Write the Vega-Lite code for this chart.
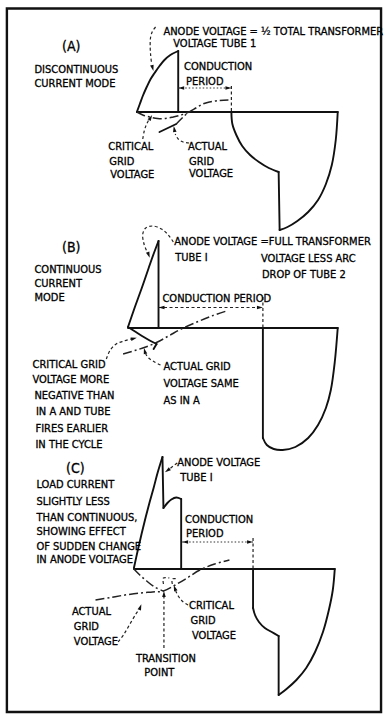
{
"$schema":"https://vega.github.io/schema/vega-lite/v6.json",
"width":390,"height":716,
"autosize":{"type":"fit","contains":"padding"},
"padding":0,
"background":"white",
"config":{"view":{"stroke":null}},
"datasets":{
"frame":[{"x":7,"y":8.5,"x2":387,"y2":712}],
"paths":[
{"id":"A_arc","s":"solid","i":0,"x":139,"y":112},{"id":"A_arc","s":"solid","i":1,"x":142,"y":104},{"id":"A_arc","s":"solid","i":2,"x":145,"y":96},{"id":"A_arc","s":"solid","i":3,"x":149,"y":87},{"id":"A_arc","s":"solid","i":4,"x":153,"y":79},{"id":"A_arc","s":"solid","i":5,"x":157,"y":73},{"id":"A_arc","s":"solid","i":6,"x":162,"y":66},{"id":"A_arc","s":"solid","i":7,"x":167,"y":60},{"id":"A_arc","s":"solid","i":8,"x":173,"y":55},{"id":"A_arc","s":"solid","i":9,"x":181,"y":51},
{"id":"A_vert","s":"solid","i":0,"x":181,"y":51},{"id":"A_vert","s":"solid","i":1,"x":181,"y":112},
{"id":"A_base","s":"solid","i":0,"x":139,"y":112},{"id":"A_base","s":"solid","i":1,"x":343,"y":112},
{"id":"A_neg1","s":"solid","i":0,"x":235,"y":112},{"id":"A_neg1","s":"solid","i":1,"x":236,"y":124},{"id":"A_neg1","s":"solid","i":2,"x":240,"y":135},{"id":"A_neg1","s":"solid","i":3,"x":246,"y":146},{"id":"A_neg1","s":"solid","i":4,"x":254,"y":155},{"id":"A_neg1","s":"solid","i":5,"x":263,"y":162},{"id":"A_neg1","s":"solid","i":6,"x":273,"y":168},{"id":"A_neg1","s":"solid","i":7,"x":283,"y":172},
{"id":"A_neg2","s":"solid","i":0,"x":283,"y":172},{"id":"A_neg2","s":"solid","i":1,"x":284,"y":230},
{"id":"A_neg3","s":"solid","i":0,"x":284,"y":230},{"id":"A_neg3","s":"solid","i":1,"x":292,"y":227},{"id":"A_neg3","s":"solid","i":2,"x":302,"y":221},{"id":"A_neg3","s":"solid","i":3,"x":313,"y":212},{"id":"A_neg3","s":"solid","i":4,"x":323,"y":200},{"id":"A_neg3","s":"solid","i":5,"x":331,"y":184},{"id":"A_neg3","s":"solid","i":6,"x":337,"y":165},{"id":"A_neg3","s":"solid","i":7,"x":341,"y":140},{"id":"A_neg3","s":"solid","i":8,"x":343,"y":112},
{"id":"A_gs","s":"solid","i":0,"x":162,"y":132},{"id":"A_gs","s":"solid","i":1,"x":179,"y":124},
{"id":"A_act","s":"dashdot","i":0,"x":179,"y":124},{"id":"A_act","s":"dashdot","i":1,"x":186,"y":117},{"id":"A_act","s":"dashdot","i":2,"x":192,"y":112},{"id":"A_act","s":"dashdot","i":3,"x":199,"y":108},{"id":"A_act","s":"dashdot","i":4,"x":206,"y":104},{"id":"A_act","s":"dashdot","i":5,"x":213,"y":102},{"id":"A_act","s":"dashdot","i":6,"x":222,"y":100.5},{"id":"A_act","s":"dashdot","i":7,"x":232,"y":100},
{"id":"A_crit","s":"dashdot","i":0,"x":139,"y":112},{"id":"A_crit","s":"dashdot","i":1,"x":145,"y":115},{"id":"A_crit","s":"dashdot","i":2,"x":152,"y":117},{"id":"A_crit","s":"dashdot","i":3,"x":160,"y":118.5},{"id":"A_crit","s":"dashdot","i":4,"x":168,"y":118.5},{"id":"A_crit","s":"dashdot","i":5,"x":176,"y":117},{"id":"A_crit","s":"dashdot","i":6,"x":184,"y":115},{"id":"A_crit","s":"dashdot","i":7,"x":192,"y":112},
{"id":"A_la","s":"dash","i":0,"x":158,"y":27},{"id":"A_la","s":"dash","i":1,"x":155,"y":31},{"id":"A_la","s":"dash","i":2,"x":153,"y":37},{"id":"A_la","s":"dash","i":3,"x":152.5,"y":45},{"id":"A_la","s":"dash","i":4,"x":153,"y":55},{"id":"A_la","s":"dash","i":5,"x":154,"y":64},
{"id":"A_lc","s":"dash","i":0,"x":145,"y":139},{"id":"A_lc","s":"dash","i":1,"x":146.5,"y":131},{"id":"A_lc","s":"dash","i":2,"x":148.5,"y":125},{"id":"A_lc","s":"dash","i":3,"x":151,"y":120},
{"id":"A_lg","s":"dash","i":0,"x":192,"y":143},{"id":"A_lg","s":"dash","i":1,"x":186,"y":142},{"id":"A_lg","s":"dash","i":2,"x":181,"y":139},{"id":"A_lg","s":"dash","i":3,"x":178,"y":134},
{"id":"A_cond","s":"dot","i":0,"x":181,"y":88},{"id":"A_cond","s":"dot","i":1,"x":235,"y":88},
{"id":"A_condv","s":"dash","i":0,"x":235,"y":86},{"id":"A_condv","s":"dash","i":1,"x":235,"y":112},

{"id":"B_rise","s":"solid","i":0,"x":130,"y":327},{"id":"B_rise","s":"solid","i":1,"x":137,"y":307},{"id":"B_rise","s":"solid","i":2,"x":144,"y":288},{"id":"B_rise","s":"solid","i":3,"x":151,"y":268},{"id":"B_rise","s":"solid","i":4,"x":156,"y":254},{"id":"B_rise","s":"solid","i":5,"x":161,"y":241},
{"id":"B_vert","s":"solid","i":0,"x":161,"y":241},{"id":"B_vert","s":"solid","i":1,"x":161,"y":328},
{"id":"B_base","s":"solid","i":0,"x":130,"y":328},{"id":"B_base","s":"solid","i":1,"x":343,"y":328},
{"id":"B_negv","s":"solid","i":0,"x":267,"y":328},{"id":"B_negv","s":"solid","i":1,"x":267,"y":438},
{"id":"B_bot","s":"solid","i":0,"x":267,"y":438},{"id":"B_bot","s":"solid","i":1,"x":271,"y":445},{"id":"B_bot","s":"solid","i":2,"x":278,"y":449},{"id":"B_bot","s":"solid","i":3,"x":287,"y":450},{"id":"B_bot","s":"solid","i":4,"x":300,"y":447},{"id":"B_bot","s":"solid","i":5,"x":313,"y":438},{"id":"B_bot","s":"solid","i":6,"x":323,"y":425},{"id":"B_bot","s":"solid","i":7,"x":331,"y":408},{"id":"B_bot","s":"solid","i":8,"x":336,"y":390},{"id":"B_bot","s":"solid","i":9,"x":340,"y":362},{"id":"B_bot","s":"solid","i":10,"x":343,"y":328},
{"id":"B_crit","s":"solid","i":0,"x":130,"y":327},{"id":"B_crit","s":"solid","i":1,"x":138,"y":332},{"id":"B_crit","s":"solid","i":2,"x":146,"y":337},{"id":"B_crit","s":"solid","i":3,"x":153,"y":341},{"id":"B_crit","s":"solid","i":4,"x":159,"y":344},
{"id":"B_tick","s":"solid","i":0,"x":156,"y":349},{"id":"B_tick","s":"solid","i":1,"x":159,"y":344},
{"id":"B_act","s":"dashdot","i":0,"x":125,"y":354},{"id":"B_act","s":"dashdot","i":1,"x":137,"y":350.5},{"id":"B_act","s":"dashdot","i":2,"x":148,"y":347},{"id":"B_act","s":"dashdot","i":3,"x":160,"y":342},{"id":"B_act","s":"dashdot","i":4,"x":172,"y":335.5},{"id":"B_act","s":"dashdot","i":5,"x":185,"y":328.5},{"id":"B_act","s":"dashdot","i":6,"x":200,"y":322},{"id":"B_act","s":"dashdot","i":7,"x":215,"y":316},{"id":"B_act","s":"dashdot","i":8,"x":230,"y":311},
{"id":"B_cond","s":"dash","i":0,"x":161,"y":307.5},{"id":"B_cond","s":"dash","i":1,"x":267,"y":307.5},
{"id":"B_condv","s":"dash","i":0,"x":267,"y":297},{"id":"B_condv","s":"dash","i":1,"x":267,"y":328},
{"id":"B_la","s":"dash","i":0,"x":176,"y":242},{"id":"B_la","s":"dash","i":1,"x":171,"y":235},{"id":"B_la","s":"dash","i":2,"x":164,"y":229},{"id":"B_la","s":"dash","i":3,"x":155,"y":226},{"id":"B_la","s":"dash","i":4,"x":148,"y":228},{"id":"B_la","s":"dash","i":5,"x":145,"y":234},{"id":"B_la","s":"dash","i":6,"x":146,"y":243},{"id":"B_la","s":"dash","i":7,"x":149,"y":251},
{"id":"B_lc","s":"dash","i":0,"x":108,"y":359},{"id":"B_lc","s":"dash","i":1,"x":112,"y":350},{"id":"B_lc","s":"dash","i":2,"x":118,"y":344},{"id":"B_lc","s":"dash","i":3,"x":126,"y":341},{"id":"B_lc","s":"dash","i":4,"x":133,"y":339},
{"id":"B_lg","s":"dash","i":0,"x":163,"y":365},{"id":"B_lg","s":"dash","i":1,"x":157,"y":362},{"id":"B_lg","s":"dash","i":2,"x":151,"y":358},{"id":"B_lg","s":"dash","i":3,"x":148,"y":354},

{"id":"C_rise","s":"solid","i":0,"x":136,"y":568},{"id":"C_rise","s":"solid","i":1,"x":140,"y":550},{"id":"C_rise","s":"solid","i":2,"x":144,"y":533},{"id":"C_rise","s":"solid","i":3,"x":148,"y":517},{"id":"C_rise","s":"solid","i":4,"x":152,"y":502},{"id":"C_rise","s":"solid","i":5,"x":156,"y":488},{"id":"C_rise","s":"solid","i":6,"x":160,"y":473},{"id":"C_rise","s":"solid","i":7,"x":165,"y":457},
{"id":"C_v1","s":"solid","i":0,"x":165,"y":457},{"id":"C_v1","s":"solid","i":1,"x":166,"y":508},
{"id":"C_bump","s":"solid","i":0,"x":166,"y":508},{"id":"C_bump","s":"solid","i":1,"x":170,"y":503},{"id":"C_bump","s":"solid","i":2,"x":174,"y":499.5},{"id":"C_bump","s":"solid","i":3,"x":179,"y":497.5},{"id":"C_bump","s":"solid","i":4,"x":184,"y":499},
{"id":"C_v2","s":"solid","i":0,"x":184,"y":499},{"id":"C_v2","s":"solid","i":1,"x":184,"y":569},
{"id":"C_base","s":"solid","i":0,"x":136,"y":569},{"id":"C_base","s":"solid","i":1,"x":340,"y":569},
{"id":"C_n1","s":"solid","i":0,"x":257,"y":569},{"id":"C_n1","s":"solid","i":1,"x":257,"y":608},
{"id":"C_n2","s":"solid","i":0,"x":257,"y":608},{"id":"C_n2","s":"solid","i":1,"x":259,"y":615},{"id":"C_n2","s":"solid","i":2,"x":263,"y":622},{"id":"C_n2","s":"solid","i":3,"x":269,"y":628},{"id":"C_n2","s":"solid","i":4,"x":276,"y":632},{"id":"C_n2","s":"solid","i":5,"x":283,"y":636},
{"id":"C_n3","s":"solid","i":0,"x":283,"y":636},{"id":"C_n3","s":"solid","i":1,"x":283,"y":695},
{"id":"C_n4","s":"solid","i":0,"x":283,"y":695},{"id":"C_n4","s":"solid","i":1,"x":291,"y":689},{"id":"C_n4","s":"solid","i":2,"x":301,"y":680},{"id":"C_n4","s":"solid","i":3,"x":311,"y":668},{"id":"C_n4","s":"solid","i":4,"x":320,"y":652},{"id":"C_n4","s":"solid","i":5,"x":328,"y":632},{"id":"C_n4","s":"solid","i":6,"x":334,"y":610},{"id":"C_n4","s":"solid","i":7,"x":338,"y":590},{"id":"C_n4","s":"solid","i":8,"x":340,"y":569},
{"id":"C_act","s":"dashdot","i":0,"x":97,"y":600},{"id":"C_act","s":"dashdot","i":1,"x":112,"y":597.5},{"id":"C_act","s":"dashdot","i":2,"x":127,"y":595},{"id":"C_act","s":"dashdot","i":3,"x":142,"y":593},{"id":"C_act","s":"dashdot","i":4,"x":155,"y":592},{"id":"C_act","s":"dashdot","i":5,"x":166,"y":591},{"id":"C_act","s":"dashdot","i":6,"x":178,"y":585},{"id":"C_act","s":"dashdot","i":7,"x":190,"y":578},{"id":"C_act","s":"dashdot","i":8,"x":203,"y":570},{"id":"C_act","s":"dashdot","i":9,"x":218,"y":564},{"id":"C_act","s":"dashdot","i":10,"x":233,"y":560},
{"id":"C_crit","s":"dashdot","i":0,"x":136,"y":569},{"id":"C_crit","s":"dashdot","i":1,"x":142,"y":575},{"id":"C_crit","s":"dashdot","i":2,"x":149,"y":581},{"id":"C_crit","s":"dashdot","i":3,"x":157,"y":587},{"id":"C_crit","s":"dashdot","i":4,"x":166,"y":591},
{"id":"C_cond","s":"dot","i":0,"x":185,"y":542},{"id":"C_cond","s":"dot","i":1,"x":257,"y":542},
{"id":"C_condv","s":"dash","i":0,"x":257,"y":538},{"id":"C_condv","s":"dash","i":1,"x":257,"y":569},
{"id":"C_m1","s":"dash","i":0,"x":166,"y":584},{"id":"C_m1","s":"dash","i":1,"x":166,"y":578},{"id":"C_m1","s":"dash","i":2,"x":172,"y":578},
{"id":"C_m2","s":"dash","i":0,"x":175,"y":584},{"id":"C_m2","s":"dash","i":1,"x":175,"y":579},{"id":"C_m2","s":"dash","i":2,"x":181,"y":579},
{"id":"C_lt","s":"dash","i":0,"x":166.5,"y":648},{"id":"C_lt","s":"dash","i":1,"x":166.5,"y":597},
{"id":"C_lc","s":"dash","i":0,"x":191,"y":605},{"id":"C_lc","s":"dash","i":1,"x":185,"y":601},{"id":"C_lc","s":"dash","i":2,"x":181,"y":596},{"id":"C_lc","s":"dash","i":3,"x":178.5,"y":591},
{"id":"C_lg","s":"dash","i":0,"x":120,"y":642},{"id":"C_lg","s":"dash","i":1,"x":126,"y":634},{"id":"C_lg","s":"dash","i":2,"x":132,"y":624},{"id":"C_lg","s":"dash","i":3,"x":138,"y":614},{"id":"C_lg","s":"dash","i":4,"x":141,"y":610},
{"id":"C_la","s":"dash","i":0,"x":180,"y":463},{"id":"C_la","s":"dash","i":1,"x":172,"y":469}
],
"arrows":[
{"x":155,"y":68,"dir":165},{"x":153,"y":117.5,"dir":30},{"x":177,"y":129,"dir":350},{"x":184,"y":88,"dir":270},{"x":232,"y":88,"dir":90},
{"x":151,"y":255,"dir":160},{"x":136,"y":338.5,"dir":75},{"x":147,"y":351,"dir":345},{"x":164,"y":307.5,"dir":270},{"x":264,"y":307.5,"dir":90},
{"x":166.5,"y":594,"dir":0},{"x":177.5,"y":588,"dir":340},{"x":142.5,"y":607,"dir":20},{"x":170,"y":470.5,"dir":235},{"x":188,"y":542,"dir":270},{"x":254,"y":542,"dir":90}
],
"texts":[
{"t":"(A)","x":63,"y":47,"k":"head"},
{"t":"DISCONTINUOUS","x":35,"y":70,"k":"lab"},
{"t":"CURRENT MODE","x":35,"y":83.5,"k":"lab"},
{"t":"ANODE  VOLTAGE = ½  TOTAL  TRANSFORMER","x":166,"y":32,"k":"lab"},
{"t":"VOLTAGE TUBE 1","x":176,"y":44,"k":"lab"},
{"t":"CONDUCTION","x":187,"y":67,"k":"lab"},
{"t":"PERIOD","x":189,"y":82,"k":"lab"},
{"t":"CRITICAL","x":110,"y":147,"k":"lab"},
{"t":"GRID","x":111,"y":161.5,"k":"lab"},
{"t":"VOLTAGE","x":112,"y":175,"k":"lab"},
{"t":"ACTUAL","x":191,"y":147,"k":"lab"},
{"t":"GRID","x":192,"y":161.5,"k":"lab"},
{"t":"VOLTAGE","x":192,"y":174,"k":"lab"},
{"t":"(B)","x":63,"y":248,"k":"head"},
{"t":"CONTINUOUS","x":35,"y":270,"k":"lab"},
{"t":"CURRENT","x":35,"y":283.5,"k":"lab"},
{"t":"MODE","x":35,"y":298,"k":"lab"},
{"t":"ANODE  VOLTAGE =FULL TRANSFORMER","x":177,"y":242,"k":"lab"},
{"t":"TUBE I","x":178,"y":258,"k":"lab"},
{"t":"VOLTAGE LESS ARC","x":265,"y":258.5,"k":"lab"},
{"t":"DROP OF TUBE 2","x":266,"y":274.5,"k":"lab"},
{"t":"CONDUCTION  PERIOD","x":165,"y":298.5,"k":"lab"},
{"t":"CRITICAL  GRID","x":33,"y":365,"k":"lab"},
{"t":"VOLTAGE  MORE","x":33,"y":380,"k":"lab"},
{"t":"NEGATIVE  THAN","x":35,"y":396,"k":"lab"},
{"t":"IN A AND TUBE","x":36.5,"y":412,"k":"lab"},
{"t":"FIRES  EARLIER","x":36,"y":429,"k":"lab"},
{"t":"IN THE CYCLE","x":36,"y":445,"k":"lab"},
{"t":"ACTUAL  GRID","x":166,"y":367,"k":"lab"},
{"t":"VOLTAGE  SAME","x":166,"y":384,"k":"lab"},
{"t":"AS  IN A","x":166,"y":400.5,"k":"lab"},
{"t":"(C)","x":67,"y":469,"k":"head"},
{"t":"LOAD CURRENT","x":37,"y":485,"k":"lab"},
{"t":"SLIGHTLY LESS","x":37,"y":501.5,"k":"lab"},
{"t":"THAN CONTINUOUS,","x":37,"y":518,"k":"lab"},
{"t":"SHOWING EFFECT","x":37,"y":531.5,"k":"lab"},
{"t":"OF SUDDEN CHANGE","x":37,"y":546.5,"k":"lab"},
{"t":"IN ANODE VOLTAGE","x":37,"y":560,"k":"lab"},
{"t":"ANODE  VOLTAGE","x":180,"y":463,"k":"lab"},
{"t":"TUBE I","x":183,"y":478,"k":"lab"},
{"t":"CONDUCTION","x":188,"y":520,"k":"lab"},
{"t":"PERIOD","x":189,"y":534,"k":"lab"},
{"t":"ACTUAL","x":73,"y":611.5,"k":"lab"},
{"t":"GRID","x":75,"y":626.5,"k":"lab"},
{"t":"VOLTAGE","x":75,"y":641.5,"k":"lab"},
{"t":"CRITICAL","x":192,"y":605.5,"k":"lab"},
{"t":"GRID","x":193.5,"y":620.5,"k":"lab"},
{"t":"VOLTAGE","x":195,"y":635.5,"k":"lab"},
{"t":"TRANSITION","x":138,"y":659,"k":"lab"},
{"t":"POINT","x":146.5,"y":673,"k":"lab"}
]
},
"encoding":{
"x":{"field":"x","type":"quantitative","scale":{"domain":[0,390],"nice":false,"zero":false},"axis":null},
"y":{"field":"y","type":"quantitative","scale":{"domain":[0,716],"nice":false,"zero":false,"reverse":true},"axis":null}
},
"layer":[
{"data":{"name":"frame"},"mark":{"type":"rect","fill":null,"stroke":"#111","strokeWidth":2.4},"encoding":{"x2":{"field":"x2"},"y2":{"field":"y2"}}},
{"data":{"name":"paths"},"transform":[{"filter":"datum.s==='solid'"}],"mark":{"type":"line","interpolate":"catmull-rom","color":"#111","strokeWidth":1.9,"strokeCap":"round","strokeJoin":"round"},"encoding":{"detail":{"field":"id"},"order":{"field":"i","type":"quantitative"}}},
{"data":{"name":"paths"},"transform":[{"filter":"datum.s==='dash'"}],"mark":{"type":"line","interpolate":"catmull-rom","color":"#222","strokeWidth":1.2,"strokeDash":[3,2.5]},"encoding":{"detail":{"field":"id"},"order":{"field":"i","type":"quantitative"}}},
{"data":{"name":"paths"},"transform":[{"filter":"datum.s==='dashdot'"}],"mark":{"type":"line","interpolate":"catmull-rom","color":"#222","strokeWidth":1.5,"strokeDash":[9,3,2,3]},"encoding":{"detail":{"field":"id"},"order":{"field":"i","type":"quantitative"}}},
{"data":{"name":"paths"},"transform":[{"filter":"datum.s==='dot'"}],"mark":{"type":"line","interpolate":"linear","color":"#333","strokeWidth":1.1,"strokeDash":[1.5,2]},"encoding":{"detail":{"field":"id"},"order":{"field":"i","type":"quantitative"}}},
{"data":{"name":"arrows"},"mark":{"type":"point","shape":"M0,-1L0.6,1L-0.6,1Z","filled":true,"color":"#111","size":36,"opacity":1},"encoding":{"angle":{"field":"dir","type":"quantitative","scale":{"domain":[0,360],"range":[0,360]}}}},
{"data":{"name":"texts"},"transform":[{"filter":"datum.k==='lab'"}],"mark":{"type":"text","align":"left","baseline":"middle","font":"Liberation Sans Narrow, DejaVu Sans Condensed, sans-serif","fontSize":11,"color":"#000","stroke":"#000","strokeWidth":0.3},"encoding":{"text":{"field":"t"}}},
{"data":{"name":"texts"},"transform":[{"filter":"datum.k==='head'"}],"mark":{"type":"text","align":"left","baseline":"middle","font":"Liberation Sans Narrow, DejaVu Sans Condensed, sans-serif","fontSize":14,"color":"#000","stroke":"#000","strokeWidth":0.3},"encoding":{"text":{"field":"t"}}}
]
}
